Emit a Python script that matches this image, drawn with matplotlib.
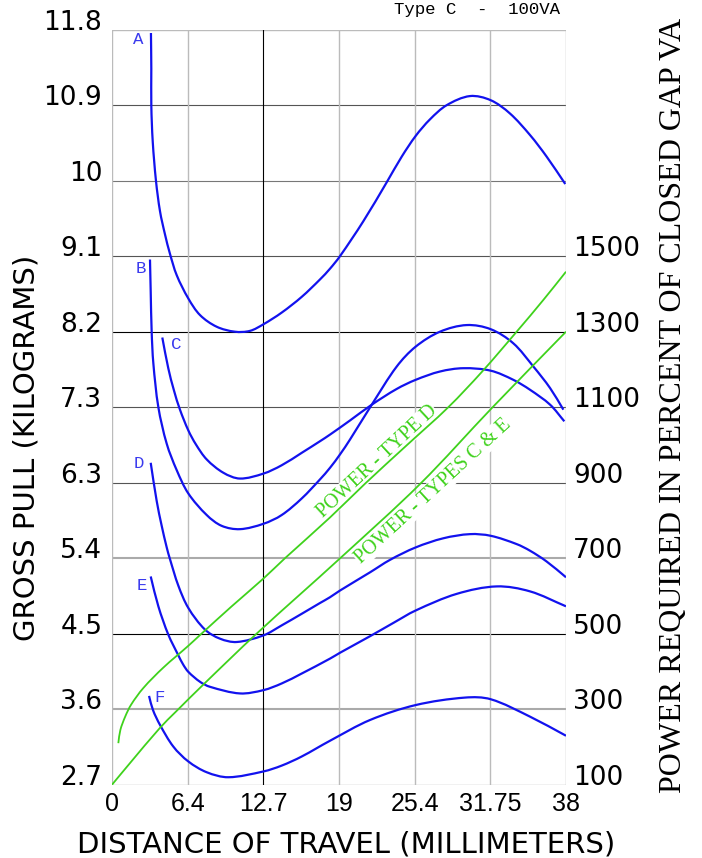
import matplotlib
matplotlib.use('Agg')
import matplotlib.pyplot as plt
import numpy as np
from matplotlib.path import Path
from matplotlib.patches import PathPatch

# axis ticks and labels
x_ticks = [0, 38 / 6, 2 * 38 / 6, 3 * 38 / 6, 4 * 38 / 6, 5 * 38 / 6, 38]
x_labels = ['0', '6.4', '12.7', '19', '25.4', '31.75', '38']
kg_ticks = list(np.linspace(2.7, 11.8, 11))
kg_labels = ['2.7', '3.6', '4.5', '5.4', '6.3', '7.3', '8.2', '9.1', '10', '10.9', '11.8']
va_ticks = [100, 300, 500, 700, 900, 1100, 1300, 1500]

# gross pull curves (mm, kg)
a_x = [3.26, 3.29, 3.29, 3.41, 3.68, 4.02, 4.44, 4.85, 5.42, 6.39, 7.37, 8.76, 10.29, 11.55, 12.68,
       14.2, 15.88, 17.41, 18.25, 19.08, 21.03, 22.99, 24.25, 25.42, 26.62, 28.01, 29.96, 31.7,
       33.31, 34.99, 36.38, 37.94]
a_kg = [11.76, 11.33, 10.89, 10.45, 9.98, 9.61, 9.33, 9.10, 8.84, 8.56, 8.36, 8.22, 8.16, 8.17, 8.25,
        8.39, 8.58, 8.79, 8.92, 9.07, 9.49, 9.96, 10.27, 10.52, 10.72, 10.89, 11.0, 10.95,
        10.79, 10.53, 10.27, 9.94]

b_x = [3.18, 3.24, 3.32, 3.46, 3.88, 4.58, 5.42, 6.39, 7.93, 9.18, 10.71, 12.68, 14.2, 15.88, 17.41,
       18.25, 19.08, 19.92, 21.74, 23.83, 25.42, 27.45, 29.69, 31.7, 33.59, 35.27, 36.67, 37.78]
b_kg = [9.03, 8.64, 8.16, 7.78, 7.25, 6.81, 6.49, 6.21, 5.95, 5.82, 5.78, 5.845, 5.95, 6.15, 6.38,
        6.52, 6.68, 6.86, 7.28, 7.74, 7.98, 8.16, 8.24, 8.19, 8.02, 7.74, 7.48, 7.22]

c_x = [4.21, 4.71, 5.19, 5.69, 6.39, 7.03, 7.93, 9.32, 10.71, 12.68, 14.2, 15.88, 17.41, 18.25, 19.92,
       21.74, 23.83, 25.42, 27.45, 29.4, 31.7, 33.59, 34.99, 36.67, 37.86]
c_kg = [8.09, 7.72, 7.45, 7.22, 6.97, 6.80, 6.62, 6.46, 6.39, 6.45, 6.55, 6.70, 6.84, 6.92, 7.09,
        7.28, 7.47, 7.58, 7.68, 7.72, 7.69, 7.58, 7.46, 7.28, 7.08]

d_x = [3.24, 3.74, 4.16, 4.58, 4.85, 5.55, 6.39, 7.78, 9.04, 10.44, 12.68, 14.2, 15.88, 17.41, 18.25,
       19.08, 21.6, 23.27, 25.42, 27.73, 29.96, 31.7, 33.87, 34.99, 36.38, 38.0]
d_kg = [6.58, 6.12, 5.82, 5.56, 5.42, 5.10, 4.83, 4.57, 4.46, 4.42, 4.50, 4.62, 4.76, 4.89, 4.96,
        5.04, 5.26, 5.41, 5.56, 5.67, 5.72, 5.70, 5.60, 5.52, 5.39, 5.20]

e_x = [3.24, 3.88, 4.71, 5.55, 5.95, 6.39, 7.37, 8.2, 10.71, 12.68, 14.2, 15.88, 18.25, 19.08, 21.6,
       23.55, 25.42, 28.85, 32.2, 34.99, 38.0]
e_kg = [5.21, 4.85, 4.51, 4.26, 4.15, 4.06, 3.94, 3.88, 3.80, 3.84, 3.92, 4.04, 4.22, 4.29, 4.49,
        4.65, 4.80, 5.00, 5.09, 5.03, 4.85]

f_x = [3.1, 3.43, 4.02, 5.13, 6.39, 7.93, 9.74, 12.68, 14.2, 15.88, 18.25, 21.6, 25.42, 29.55, 31.7,
       34.99, 38.0]
f_kg = [3.77, 3.60, 3.42, 3.16, 2.98, 2.85, 2.79, 2.86, 2.93, 3.04, 3.23, 3.48, 3.66, 3.75, 3.73,
        3.52, 3.29]

# power curves (mm, percent of closed gap VA)
pd_x = [0.53, 0.7, 1.1, 1.6, 2.62, 4.29, 6.39, 7.42, 10.0, 12.67, 14.48, 18.25, 21.2, 24.7, 28.15,
        31.0, 33.87, 36.1, 38.0]
pd_va = [210, 245, 280, 312, 356, 410, 468, 498, 572, 646, 700, 808, 898, 1000, 1100,
         1195, 1300, 1384, 1459]

pce_x = [0, 1.5, 4.0, 5.3, 7.8, 12.1, 19.1, 25.8, 31.8, 38.0]
pce_va = [100, 157, 250, 292, 370, 500, 700, 897, 1098, 1300]

curves = [('A', a_x, a_kg, (2.18, 11.68)), ('B', b_x, b_kg, (2.39, 8.92)),
          ('C', c_x, c_kg, (5.36, 8.01)), ('D', d_x, d_kg, (2.26, 6.57)),
          ('E', e_x, e_kg, (2.51, 5.10)), ('F', f_x, f_kg, (4.02, 3.75))]

h_colors = ['#bbbbbb', '#aaaaaa', '#000000', '#aaaaaa', '#555555', '#555555',
            '#000000', '#555555', '#777777', '#555555', '#bbbbbb']
h_widths = [1.0, 1.5, 0.8, 1.5, 0.8, 0.8, 0.8, 0.8, 0.8, 0.8, 1.0]
v_colors = ['#bbbbbb', '#bbbbbb', '#000000', '#bbbbbb', '#bbbbbb', '#bbbbbb', '#bbbbbb']

blue = '#1212ee'
green = '#3fd21c'


def smooth_path(xs, ys, sx, sy):
    # bezier through the read points, tangents taken in pixel space
    p = np.column_stack([np.asarray(xs) * sx, np.asarray(ys) * sy])
    n = len(p)
    d = np.hypot(*np.diff(p, axis=0).T)
    tang = np.zeros_like(p)
    tang[0] = (p[1] - p[0]) / d[0]
    tang[-1] = (p[-1] - p[-2]) / d[-1]
    for i in range(1, n - 1):
        tang[i] = (p[i + 1] - p[i - 1]) / (d[i - 1] + d[i])
    verts = [p[0]]
    codes = [Path.MOVETO]
    for i in range(n - 1):
        verts += [p[i] + tang[i] * d[i] / 3, p[i + 1] - tang[i + 1] * d[i] / 3, p[i + 1]]
        codes += [Path.CURVE4] * 3
    return Path(np.array(verts) / [sx, sy], codes)


fig = plt.figure(figsize=(7.02, 8.58), dpi=100)
ax = fig.add_axes([112 / 702, 1 - 784.7 / 858, 454 / 702, 755 / 858])
ax.set_xlim(0, 38)
ax.set_ylim(2.7, 11.8)
for s in ax.spines.values():
    s.set_visible(False)

sx = 454 / 38
for y, c, w in zip(kg_ticks, h_colors, h_widths):
    ax.axhline(y, color=c, lw=w, zorder=1)
for x, c in zip(x_ticks, v_colors):
    ax.axvline(x, color=c, lw=1.0 if c != '#000000' else 0.8, zorder=1)

for name, xs, ys, pos in curves:
    ax.add_patch(PathPatch(smooth_path(xs, ys, sx, 755 / 9.1), fill=False, edgecolor=blue,
                           lw=1.6, zorder=4, capstyle='butt'))
    ax.text(pos[0], pos[1], name, color='#3a3aee', fontsize=12.5, family='Liberation Mono',
            ha='center', va='center', zorder=5)

ax.set_xticks(x_ticks)
ax.set_xticklabels(x_labels, family='Liberation Sans', fontsize=18)
ax.set_yticks(kg_ticks)
ax.set_yticklabels(kg_labels, fontsize=19)
ax.tick_params(axis='x', length=0, pad=5)
ax.tick_params(axis='y', length=0, pad=7)
for lab in ax.get_yticklabels():
    lab.set_verticalalignment('baseline')

ax2 = ax.twinx()
ax2.set_ylim(100, 2100)
for s in ax2.spines.values():
    s.set_visible(False)
for xs, ys in [(pd_x, pd_va), (pce_x, pce_va)]:
    ax2.add_patch(PathPatch(smooth_path(xs, ys, sx, 755 / 2000), fill=False, edgecolor=green,
                            lw=1.3, zorder=3))
ax2.set_yticks(va_ticks)
ax2.set_yticklabels([str(v) for v in va_ticks], fontsize=19)
ax2.tick_params(axis='y', length=0, pad=5)
for lab in ax2.get_yticklabels():
    lab.set_verticalalignment('baseline')

ax.text(22.18, 6.59, 'POWER - TYPE D', color=green, family='Liberation Serif', fontsize=14.5,
        rotation=42.8, rotation_mode='anchor', ha='center', va='center', zorder=2,
        bbox=dict(facecolor='white', edgecolor='none', pad=0.5))
ax.text(26.87, 6.24, 'POWER - TYPES C & E', color=green, family='Liberation Serif', fontsize=14.5,
        rotation=42.6, rotation_mode='anchor', ha='center', va='center', zorder=2,
        bbox=dict(facecolor='white', edgecolor='none', pad=0.5))

fig.text(346 / 702, 1 - 853 / 858, 'DISTANCE OF TRAVEL (MILLIMETERS)', fontsize=21,
         ha='center', va='baseline')
fig.text(27 / 702, 1 - 448 / 858, 'GROSS PULL (KILOGRAMS)', fontsize=21, rotation=90,
         ha='center', va='center')
fig.text(674 / 702, 1 - 405 / 858, 'POWER REQUIRED IN PERCENT OF CLOSED GAP VA',
         family='Liberation Serif', fontsize=23, rotation=90, ha='center', va='center')
fig.text(560 / 702, 1 - 14 / 858, 'Type C  -  100VA', family='Liberation Mono', fontsize=12.5,
         ha='right', va='baseline')

fig.savefig('out.png', dpi=100)
